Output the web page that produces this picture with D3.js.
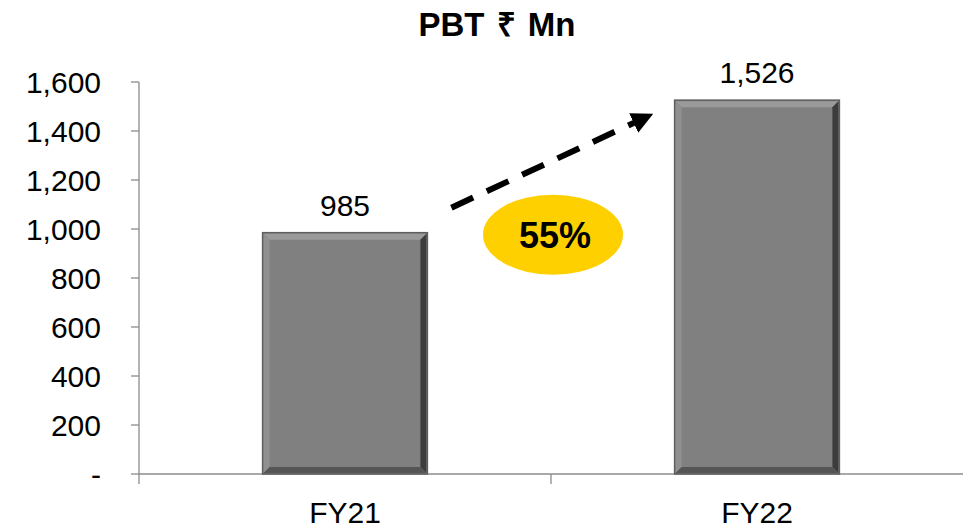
<!DOCTYPE html>
<meta charset="utf-8" />
<title>PBT</title>
<script src="https://d3js.org/d3.v7.min.js"></script>
<style>
    body {
        margin: 0;
        background: #fff;
    }
    text {
        font-family: 'Liberation Sans', Arial, sans-serif;
        fill: #000;
    }
</style>
<div id="chart"></div>
<script>
// data
var categories = ['FY21', 'FY22'];
var values = [985, 1526];
var yTicks = [0, 200, 400, 600, 800, 1000, 1200, 1400, 1600];
var growthLabel = '55%';
var title = 'PBT \u20B9 Mn';

var W = 969, H = 529;
var margin = { top: 82, right: 6, bottom: 55, left: 139 };

var svg = d3.select('#chart').append('svg')
    .attr('width', W)
    .attr('height', H);

var x = d3.scaleBand()
    .domain(categories)
    .range([margin.left, W - margin.right])
    .paddingInner(0.6)
    .paddingOuter(0.3);

var y = d3.scaleLinear()
    .domain([0, 1600])
    .range([H - margin.bottom, margin.top]);

var step = x.step();
var y0 = y(0);

// title
svg.append('text')
    .attr('x', 497)
    .attr('y', 36)
    .attr('text-anchor', 'middle')
    .style('font-weight', 'bold')
    .style('font-size', '33px')
    .style('word-spacing', '3px')
    .text(title);

// y axis
var axisColor = '#8c8c8c';
svg.append('line')
    .attr('x1', margin.left).attr('x2', margin.left)
    .attr('y1', y(1600)).attr('y2', y0 + 10)
    .attr('stroke', axisColor).attr('stroke-width', 1.3);

svg.selectAll('.ytick').data(yTicks).enter().append('line')
    .attr('class', 'ytick')
    .attr('x1', margin.left - 8).attr('x2', margin.left)
    .attr('y1', function(d) { return y(d); })
    .attr('y2', function(d) { return y(d); })
    .attr('stroke', axisColor).attr('stroke-width', 1.3);

svg.selectAll('.ylabel').data(yTicks).enter().append('text')
    .attr('class', 'ylabel')
    .attr('x', 101)
    .attr('y', function(d) { return y(d); })
    .attr('dy', '0.37em')
    .attr('text-anchor', 'end')
    .style('font-size', '30px')
    .text(function(d) { return d === 0 ? '-' : d3.format(',')(d); });

// x axis
svg.append('line')
    .attr('x1', margin.left).attr('x2', W - margin.right)
    .attr('y1', y0).attr('y2', y0)
    .attr('stroke', axisColor).attr('stroke-width', 1.3);

var bounds = d3.range(categories.length + 1).map(function(i) { return margin.left + i * step; });
svg.selectAll('.xtick').data(bounds.slice(1, -1)).enter().append('line')
    .attr('class', 'xtick')
    .attr('x1', function(d) { return d; }).attr('x2', function(d) { return d; })
    .attr('y1', y0).attr('y2', y0 + 10)
    .attr('stroke', axisColor).attr('stroke-width', 1.3);

svg.selectAll('.xlabel').data(categories).enter().append('text')
    .attr('class', 'xlabel')
    .attr('x', function(d) { return x(d) + x.bandwidth() / 2; })
    .attr('y', y0 + 49)
    .attr('text-anchor', 'middle')
    .style('font-size', '30px')
    .text(function(d) { return d; });

// bars with bevel
var bw = x.bandwidth(), bev = 6;
var bars = svg.selectAll('.bar').data(values).enter().append('g').attr('class', 'bar');

bars.append('rect')
    .attr('x', function(d, i) { return x(categories[i]); })
    .attr('y', function(d) { return y(d); })
    .attr('width', bw)
    .attr('height', function(d) { return y0 - y(d); })
    .attr('fill', '#808080')
    .attr('stroke', '#5e5e5e')
    .attr('stroke-width', 1.5);

function sides(d, i) {
    var l = x(categories[i]) + 1, r = l + bw - 2, t = y(d) + 1, b = y0 - 1;
    return [
        { c: '#9a9a9a', p: [[l, t], [r, t], [r - bev, t + bev], [l + bev, t + bev]] },
        { c: '#909090', p: [[l, t], [l + bev, t + bev], [l + bev, b - bev], [l, b]] },
        { c: '#3c3c3c', p: [[r, t], [r, b], [r - bev, b - bev], [r - bev, t + bev]] },
        { c: '#555555', p: [[l, b], [l + bev, b - bev], [r - bev, b - bev], [r, b]] }
    ];
}
bars.each(function(d, i) {
    d3.select(this).selectAll('polygon').data(sides(d, i)).enter().append('polygon')
        .attr('points', function(s) { return s.p.map(function(q) { return q.join(','); }).join(' '); })
        .attr('fill', function(s) { return s.c; });
});

svg.selectAll('.vlabel').data(values).enter().append('text')
    .attr('class', 'vlabel')
    .attr('x', function(d, i) { return x(categories[i]) + bw / 2; })
    .attr('y', function(d) { return y(d) - 17; })
    .attr('text-anchor', 'middle')
    .style('font-size', '30px')
    .text(function(d) { return d3.format(',')(d); });

// growth arrow
svg.append('defs').append('marker')
    .attr('id', 'head')
    .attr('viewBox', '0 0 10 10')
    .attr('refX', 2).attr('refY', 5)
    .attr('markerWidth', 3.6).attr('markerHeight', 3.6)
    .attr('orient', 'auto')
    .append('path')
    .attr('d', 'M0,0 L10,5 L0,10 Z')
    .attr('fill', '#000');

var ax1 = x(categories[0]) + bw + 24, ay1 = y(values[0]) - 25;
var ax2 = x(categories[1]) - 37, ay2 = y(values[1]) + 21;
svg.append('line')
    .attr('x1', ax1).attr('y1', ay1)
    .attr('x2', ax2).attr('y2', ay2)
    .attr('stroke', '#000')
    .attr('stroke-width', 6)
    .attr('stroke-dasharray', '24,15')
    .attr('marker-end', 'url(#head)');

// growth bubble
var mid = bounds[1], ey = y(values[0]) + 2;
svg.append('ellipse')
    .attr('cx', mid + 2).attr('cy', ey)
    .attr('rx', 70).attr('ry', 40)
    .attr('fill', '#ffd000');
svg.append('text')
    .attr('x', mid + 4).attr('y', ey)
    .attr('dy', '0.36em')
    .attr('text-anchor', 'middle')
    .style('font-weight', 'bold')
    .style('font-size', '36px')
    .text(growthLabel);
</script>
